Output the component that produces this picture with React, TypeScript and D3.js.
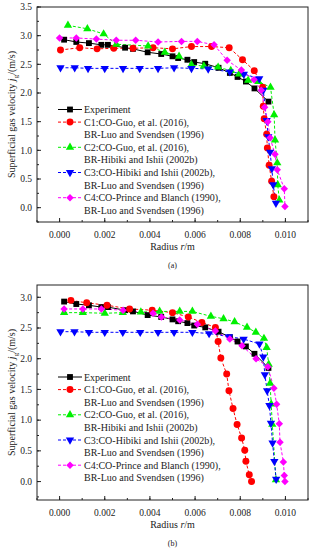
import React from "react";
import * as d3 from "d3";

// ---------- data ----------
const expR = [0.0002,0.00074,0.0013,0.00185,0.00214,0.0029,0.00325,0.0039,0.0045,0.005,0.00525,0.00566,0.00596,0.00645,0.00704,0.00754,0.00788,0.00825,0.00863,0.00925];
const expV = [2.93,2.89,2.87,2.84,2.84,2.79,2.77,2.71,2.68,2.64,2.61,2.58,2.54,2.51,2.44,2.35,2.28,2.2,2.08,1.85];

// chart (a)
const c1aR = [0.00004,0.00089,0.00166,0.0024,0.00325,0.00414,0.005,0.00584,0.00673,0.00751,0.0081,0.00862,0.00899,0.00902,0.00906,0.00917,0.0092,0.00928,0.00939,0.00949];
const c1aV = [2.75,2.79,2.77,2.78,2.78,2.79,2.77,2.81,2.81,2.79,2.58,2.39,2.1,1.77,1.55,1.28,1.04,0.74,0.46,0.19];
const c2aR = [0.00037,0.00123,0.00195,0.00251,0.00392,0.00466,0.00529,0.00584,0.00639,0.00702,0.00758,0.00795,0.00835,0.0088,0.00934,0.0095,0.00954,0.00964,0.00966,0.00973];
const c2aV = [3.18,3.12,3.03,2.85,2.82,2.71,2.64,2.49,2.47,2.45,2.39,2.33,2.22,2.2,2.1,1.62,1.18,0.78,0.4,0.13];
const c3aR = [0.00004,0.00067,0.00126,0.002,0.00281,0.00355,0.00436,0.00507,0.00584,0.00658,0.00754,0.00816,0.00884,0.00902,0.00917,0.00924,0.00932,0.0094,0.00946,0.00958];
const c3aV = [2.44,2.44,2.43,2.43,2.43,2.43,2.43,2.44,2.43,2.42,2.37,2.33,2.25,2.05,1.52,1.24,0.97,0.68,0.4,0.08];
const c4aR = [0.0,0.00074,0.00163,0.00251,0.00337,0.00436,0.0054,0.0061,0.00684,0.00742,0.00805,0.00861,0.00893,0.00908,0.00922,0.00932,0.00954,0.00964,0.00995,0.00998];
const c4aV = [2.96,2.96,2.94,2.92,2.92,2.89,2.9,2.9,2.84,2.57,2.4,2.23,2.05,1.75,1.5,1.22,0.93,0.66,0.33,0.02];

// chart (b)
const c1bR = [0.0005,0.0012,0.0021,0.0031,0.0041,0.005,0.0057,0.0063,0.0069,0.00702,0.00714,0.0074,0.0075,0.00768,0.00786,0.00806,0.0082,0.00825,0.0084,0.0085];
const c1bV = [2.95,2.91,2.87,2.81,2.79,2.75,2.68,2.59,2.51,2.28,2.01,1.75,1.48,1.19,0.93,0.71,0.51,0.33,0.11,0.0];
const c2bR = [0.0002,0.00103,0.002,0.0028,0.0036,0.00443,0.00532,0.00588,0.0067,0.00726,0.00775,0.0083,0.00869,0.00905,0.00917,0.00926,0.00932,0.00937,0.00942,0.00958];
const c2bV = [2.75,2.75,2.74,2.75,2.76,2.77,2.77,2.77,2.69,2.65,2.6,2.51,2.43,2.33,2.18,1.91,1.6,1.26,0.93,0.03];
const c3bR = [0.00004,0.00066,0.0013,0.002,0.0028,0.00357,0.00436,0.00507,0.00588,0.00662,0.0075,0.00815,0.00885,0.00902,0.00909,0.00919,0.00929,0.00936,0.00943,0.00951,0.00959];
const c3bV = [2.44,2.44,2.43,2.43,2.43,2.43,2.43,2.43,2.43,2.41,2.36,2.32,2.24,2.03,1.74,1.48,1.24,0.95,0.63,0.33,0.04];
const c4bR = [0.0002,0.00103,0.00185,0.00281,0.00414,0.00451,0.00532,0.0061,0.0069,0.00754,0.00808,0.0087,0.00922,0.00949,0.00961,0.00973,0.00976,0.00991,0.00995,0.00998];
const c4bV = [2.81,2.81,2.81,2.79,2.74,2.68,2.63,2.56,2.45,2.32,2.21,2.0,1.87,1.52,1.26,0.94,0.64,0.32,0.1,0.0];

const xTicks = [0, 0.002, 0.004, 0.006, 0.008, 0.01];
const xTickLabels = ["0.000", "0.002", "0.004", "0.006", "0.008", "0.010"];
const yTicksA = [0, 0.5, 1.0, 1.5, 2.0, 2.5, 3.0, 3.5];
const yTicksB = [0, 0.5, 1.0, 1.5, 2.0, 2.5, 3.0];

const legendLines = [
  "Experiment",
  "C1:CO-Guo, et al. (2016),",
  "BR-Luo and Svendsen (1996)",
  "C2:CO-Guo, et al. (2016),",
  "BR-Hibiki and Ishii (2002b)",
  "C3:CO-Hibiki and Ishii (2002b),",
  "BR-Luo and Svendsen (1996)",
  "C4:CO-Prince and Blanch (1990),",
  "BR-Luo and Svendsen (1996)",
];

const FONT = "'Liberation Serif', 'Times New Roman', serif";

type SeriesStyle = { color: string; symbol: string; dashed: boolean };
const styles: SeriesStyle[] = [
  { color: "#000000", symbol: "square", dashed: false },
  { color: "#ff0000", symbol: "circle", dashed: true },
  { color: "#00f000", symbol: "triUp", dashed: true },
  { color: "#0000ff", symbol: "triDown", dashed: true },
  { color: "#ff00ff", symbol: "diamond", dashed: true },
];

function Marker({ x, y, st }: { x: number; y: number; st: SeriesStyle }) {
  let path = "";
  let rot = 0;
  if (st.symbol === "square") path = d3.symbol(d3.symbolSquare, 34)()!;
  else if (st.symbol === "circle") path = d3.symbol(d3.symbolCircle, 38)()!;
  else if (st.symbol === "triUp") path = d3.symbol(d3.symbolTriangle, 30)()!;
  else if (st.symbol === "triDown") { path = d3.symbol(d3.symbolTriangle, 30)()!; rot = 180; }
  else { path = d3.symbol(d3.symbolSquare, 28)()!; rot = 45; }
  return <path d={path} transform={`translate(${x},${y}) rotate(${rot})`} fill={st.color} stroke="none" />;
}

function Panel({ top, yDomain, yTicks, series, legendTop, tag }: any) {
  const left = 37, right = 308, bottom = top + 215;
  const x = d3.scaleLinear().domain([-0.001, 0.011]).range([left, right]);
  const y = d3.scaleLinear().domain(yDomain).range([bottom, top]);
  const line = d3.line<[number, number]>().x(d => x(d[0])).y(d => y(d[1]));
  const xMinor = d3.range(-0.001, 0.0111, 0.001);
  const yMinor = d3.range(Math.ceil(yDomain[0] / 0.25) * 0.25, yDomain[1] + 0.001, 0.25);
  const legStep = 12.6;
  const symRows = [0, 1, 3, 5, 7];
  return (
    <g>
      {series.map((s: any, i: number) => {
        const pts: [number, number][] = s.r.map((r: number, k: number) => [r, s.v[k]]);
        const st = styles[i];
        return (
          <path key={i} d={line(pts)!} fill="none" stroke={st.color} strokeWidth={1}
            strokeDasharray={st.dashed ? "3,2" : undefined} />
        );
      })}
      {series.map((s: any, i: number) => (
        <g key={"m" + i}>
          {s.r.map((r: number, k: number) => (
            <Marker key={k} x={x(r)} y={y(s.v[k])} st={styles[i]} />
          ))}
        </g>
      ))}
      <rect x={left} y={top} width={right - left} height={bottom - top} fill="none" stroke="#222" strokeWidth={1} />
      {xMinor.map((t, i) => (
        <line key={"xm" + i} x1={x(t)} x2={x(t)} y1={bottom} y2={bottom - 2} stroke="#222" />
      ))}
      {xTicks.map((t, i) => (
        <g key={"xt" + i}>
          <line x1={x(t)} x2={x(t)} y1={bottom} y2={bottom - 4} stroke="#222" />
          <text x={x(t)} y={bottom + 16} textAnchor="middle" fontSize={9.5} fontFamily={FONT} fill="#222">{xTickLabels[i]}</text>
        </g>
      ))}
      {yMinor.map((t, i) => (
        <line key={"ym" + i} x1={left} x2={left + 2} y1={y(t)} y2={y(t)} stroke="#222" />
      ))}
      {yTicks.map((t: number, i: number) => (
        <g key={"yt" + i}>
          <line x1={left} x2={left + 4} y1={y(t)} y2={y(t)} stroke="#222" />
          <text x={32} y={y(t) + 3.3} textAnchor="end" fontSize={9.5} fontFamily={FONT} fill="#222">{t.toFixed(1)}</text>
        </g>
      ))}
      <text x={(left + right) / 2} y={bottom + 28} textAnchor="middle" fontSize={10} fontFamily={FONT} fill="#222">
        Radius <tspan fontStyle="italic">r</tspan>/m
      </text>
      <text transform={`translate(15,${(top + bottom) / 2}) rotate(-90)`} textAnchor="middle" fontSize={10} fontFamily={FONT} fill="#222">
        Superficial gas velocity <tspan fontStyle="italic">j</tspan><tspan fontSize={7} dy={2.5}>g</tspan><tspan dy={-2.5}>/(m/s)</tspan>
      </text>
      <text x={(left + right) / 2} y={bottom + 46} textAnchor="middle" fontSize={8} fontFamily={FONT} fill="#222">{tag}</text>
      {symRows.map((row, i) => {
        const cy = legendTop + row * legStep;
        const st = styles[i];
        return (
          <g key={"lg" + i}>
            <line x1={58} x2={82} y1={cy} y2={cy} stroke={st.color} strokeWidth={1} strokeDasharray={st.dashed ? "3,2" : undefined} />
            <Marker x={70} y={cy} st={st} />
          </g>
        );
      })}
      {legendLines.map((t, i) => (
        <text key={"lt" + i} x={84} y={legendTop + i * legStep + 3.5} fontSize={10} fontFamily={FONT} fill="#222">{t}</text>
      ))}
    </g>
  );
}

export default function App() {
  const seriesA = [
    { r: expR, v: expV },
    { r: c1aR, v: c1aV },
    { r: c2aR, v: c2aV },
    { r: c3aR, v: c3aV },
    { r: c4aR, v: c4aV },
  ];
  const seriesB = [
    { r: expR, v: expV },
    { r: c1bR, v: c1bV },
    { r: c2bR, v: c2bV },
    { r: c3bR, v: c3bV },
    { r: c4bR, v: c4bV },
  ];
  return (
    <svg width={313} height={550} style={{ position: "absolute", left: 0, top: 0, background: "#fff" }}>
      <rect x={0} y={0} width={313} height={550} fill="#fff" />
      <Panel top={7} yDomain={[-0.25, 3.5]} yTicks={yTicksA} series={seriesA} legendTop={109.5} tag="(a)" />
      <Panel top={285} yDomain={[-0.3, 3.2]} yTicks={yTicksB} series={seriesB} legendTop={377} tag="(b)" />
    </svg>
  );
}
